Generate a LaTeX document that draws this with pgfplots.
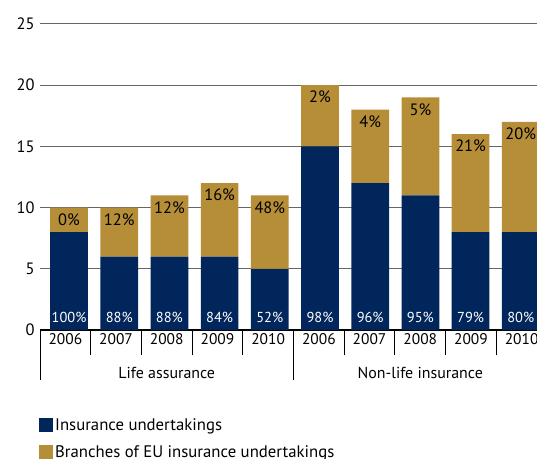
\documentclass[border=0pt]{standalone}
\usepackage{pgfplots}
\pgfplotsset{compat=1.18}
\usepackage{pgfplotstable}
\usepackage{fontspec}
\setmainfont{PT Sans}
\definecolor{navy}{RGB}{0,38,92}
\definecolor{gold}{RGB}{182,142,56}

\pgfplotstableread{
x     blue gold bl  gl
0.073 8    2    100 0
1.063 6    4    88  12
2.053 6    5    88  12
3.043 6    6    84  16
4.033 5    6    52  48
5.023 15   5    98  2
6.013 12   6    96  4
7.003 11   8    95  5
7.993 8    8    79  21
8.983 8    9    80  20
}\data

\begin{document}
\begin{tikzpicture}
\begin{axis}[
  at={(0,0)}, anchor=south west,
  x=50.7bp, y=12.24bp,
  xmin=-0.5, xmax=9.3, ymin=0, ymax=25,
  clip=false,
  ybar stacked, bar width=37.7bp,
  axis x line*=bottom, axis y line*=left,
  x axis line style={-, black, line width=1.5bp},
  y axis line style={draw=none},
  ytick={0,5,...,25},
  ymajorgrids, grid style={black!60, line width=1bp},
  xtick={0,...,9},
  xticklabels={2006,2007,2008,2009,2010,2006,2007,2008,2009,2010},
  major tick length=0pt,
  tick align=outside,
  tick style={black, line width=0.9bp},
  minor xtick={-0.5,0.5,...,8.5},
  minor tick length=25bp,
  extra x ticks={-0.5,4.5},
  extra x tick labels={},
  extra x tick style={major tick length=50bp, grid=none},
  /pgf/number format/assume math mode=true,
  yticklabel style={font=\fontsize{16.5}{18}\selectfont, xshift=-2bp},
  xticklabel style={font=\fontsize{15.5}{18}\selectfont},
  legend style={at={(axis description cs:0,0)}, anchor=north west,
    xshift=-1bp, yshift=-86bp, draw=none, fill=none, inner sep=0pt,
    row sep=10bp, font=\fontsize{16.8}{19}\selectfont,
    /tikz/every even column/.style={column sep=5bp}},
  legend cell align=left,
  legend image code/.code={\fill[#1] (0bp,-7bp) rectangle (14bp,7bp);},
]
\addplot[fill=navy, draw=none] table[x=x, y=blue] {\data};
\addplot[fill=gold, draw=none] table[x=x, y=gold] {\data};
\legend{Insurance undertakings, Branches of EU insurance undertakings}
\node[font=\fontsize{16}{18}\selectfont] at (axis cs:2,0) [yshift=-43bp] {Life assurance};
\node[font=\fontsize{16}{18}\selectfont] at (axis cs:7,0) [yshift=-43bp] {Non-life insurance};
\end{axis}
\begin{axis}[
  at={(0,0)}, anchor=south west,
  x=50.7bp, y=12.24bp,
  xmin=-0.5, xmax=9.3, ymin=0, ymax=25,
  clip=false, hide axis,
]
\addplot[draw=none, point meta=explicit symbolic,
  nodes near coords={\pgfplotspointmeta\%},
  nodes near coords style={anchor=center, yshift=13bp, text=white, inner sep=0pt,
    font=\fontsize{14.5}{16}\selectfont}]
  table[x=x, y expr=0, meta=bl] {\data};
\addplot[draw=none, point meta=explicit symbolic,
  nodes near coords={\pgfplotspointmeta\%},
  nodes near coords style={anchor=center, yshift=-12bp, text=black, inner sep=0pt,
    font=\fontsize{16.5}{18}\selectfont}]
  table[x=x, y expr=\thisrow{blue}+\thisrow{gold}, meta=gl] {\data};
\end{axis}
\pgfresetboundingbox
\path (-40bp,-129bp) rectangle (497bp,330bp);
\end{tikzpicture}
\end{document}
